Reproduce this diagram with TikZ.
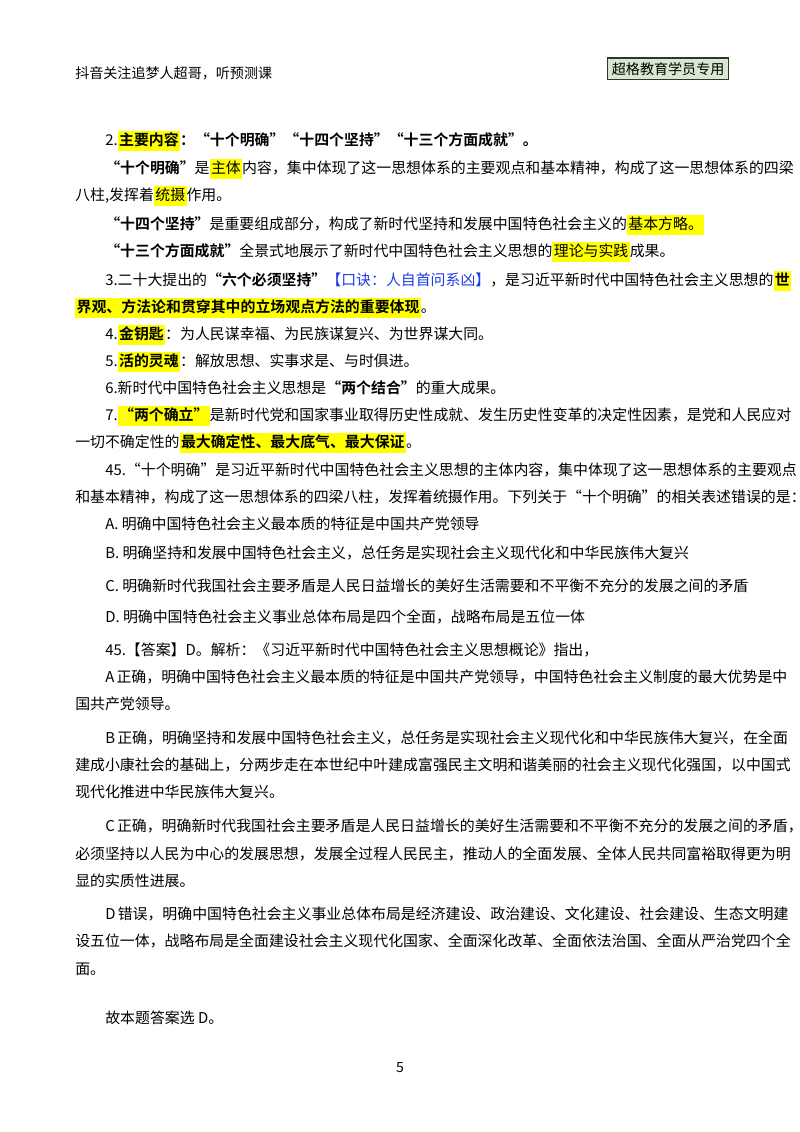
\documentclass[tikz,border=0pt]{standalone}
\usepackage{fontspec}
\setmainfont{Noto Sans CJK SC}[BoldFont={Noto Sans CJK SC Bold}]
\XeTeXlinebreaklocale "zh"
\XeTeXlinebreakskip=0pt plus 2pt minus 1pt
\definecolor{hly}{RGB}{255,255,0}
\definecolor{boxg}{RGB}{214,232,208}
\definecolor{kb}{RGB}{30,60,230}
\newcommand\hlt[1]{{\setlength{\fboxsep}{1pt}\colorbox{hly}{\strut #1}}}
\newcommand\fullind[1]{\hbox to 15.55cm{#1}}
\newcommand\fullnon[1]{\hbox to 16.3cm{#1}}
\begin{document}
\begin{tikzpicture}[x=0.025cm,y=-0.025cm,
  ln/.style={anchor=base west,inner sep=0pt,font=\fontsize{10.6pt}{12pt}\selectfont},
  sm/.style={anchor=base west,inner sep=0pt,font=\fontsize{10pt}{12pt}\selectfont}]
\useasboundingbox (0,0) rectangle (800,1132);
\node[sm] (h1) at (75,78) {抖音关注追梦人超哥，听预测课};
\node[sm,draw=black!80,line width=1pt,fill=boxg,inner sep=3pt] (h2) at (607,74) {超格教育学员专用};
\node[ln] (l1) at (105,145) {2.\hlt{\textbf{主要内容}}\textbf{：“十个明确”“十四个坚持”“十三个方面成就”。}};
\node[ln] (l2) at (105,173) {\fullind{\textbf{“十个明确”}是\hlt{主体}内容，集中体现了这一思想体系的主要观点和基本精神，构成了这一思想体系的四梁}};
\node[ln] (l3) at (75,200) {八柱,发挥着\hlt{统摄}作用。};
\node[ln] (l4) at (105,229) {\textbf{“十四个坚持”}是重要组成部分，构成了新时代坚持和发展中国特色社会主义的\hlt{基本方略。}};
\node[ln] (l5) at (105,256) {\textbf{“十三个方面成就”}全景式地展示了新时代中国特色社会主义思想的\hlt{理论与实践}成果。};
\node[ln] (l6) at (105,285) {\fullind{3.二十大提出的\textbf{“六个必须坚持”}{\color{kb}【口诀：人自首问系凶】}，是习近平新时代中国特色社会主义思想的\hlt{\textbf{世}}}};
\node[ln] (l7) at (75,312) {\hlt{\textbf{界观、方法论和贯穿其中的立场观点方法的重要体现}}。};
\node[ln] (l8) at (105,339) {4.\hlt{\textbf{金钥匙}}：为人民谋幸福、为民族谋复兴、为世界谋大同。};
\node[ln] (l9) at (105,366) {5.\hlt{\textbf{活的灵魂}}：解放思想、实事求是、与时俱进。};
\node[ln] (l10) at (105,393) {6.新时代中国特色社会主义思想是\textbf{“两个结合”}的重大成果。};
\node[ln] (l11) at (105,420) {\fullind{7.\hlt{\textbf{“两个确立”}}是新时代党和国家事业取得历史性成就、发生历史性变革的决定性因素，是党和人民应对}};
\node[ln] (l12) at (75,447) {一切不确定性的\hlt{\textbf{最大确定性、最大底气、最大保证}}。};
\node[ln] (q1) at (105,475) {\fullind{45.“十个明确”是习近平新时代中国特色社会主义思想的主体内容，集中体现了这一思想体系的主要观点}};
\node[ln] (q2) at (75,502) {\fullnon{和基本精神，构成了这一思想体系的四梁八柱，发挥着统摄作用。下列关于“十个明确”的相关表述错误的是：}};
\node[ln] (qa) at (105,529) {A. 明确中国特色社会主义最本质的特征是中国共产党领导};
\node[ln] (qb) at (105,558) {B. 明确坚持和发展中国特色社会主义，总任务是实现社会主义现代化和中华民族伟大复兴};
\node[ln] (qc) at (105,591) {C. 明确新时代我国社会主要矛盾是人民日益增长的美好生活需要和不平衡不充分的发展之间的矛盾};
\node[ln] (qd) at (105,622) {D. 明确中国特色社会主义事业总体布局是四个全面，战略布局是五位一体};
\node[ln] (a0) at (105,655) {45.【答案】D。解析：《习近平新时代中国特色社会主义思想概论》指出，};
\node[ln] (a1) at (105,682) {\fullind{A 正确，明确中国特色社会主义最本质的特征是中国共产党领导，中国特色社会主义制度的最大优势是中}};
\node[ln] (a2) at (75,709) {国共产党领导。};
\node[ln] (b1) at (105,743) {\fullind{B 正确，明确坚持和发展中国特色社会主义，总任务是实现社会主义现代化和中华民族伟大复兴，在全面}};
\node[ln] (b2) at (75,770) {\fullnon{建成小康社会的基础上，分两步走在本世纪中叶建成富强民主文明和谐美丽的社会主义现代化强国，以中国式}};
\node[ln] (b3) at (75,797) {现代化推进中华民族伟大复兴。};
\node[ln] (c1) at (105,831) {\fullind{C 正确，明确新时代我国社会主要矛盾是人民日益增长的美好生活需要和不平衡不充分的发展之间的矛盾，}};
\node[ln] (c2) at (75,859) {\fullnon{必须坚持以人民为中心的发展思想，发展全过程人民民主，推动人的全面发展、全体人民共同富裕取得更为明}};
\node[ln] (c3) at (75,886) {显的实质性进展。};
\node[ln] (d1) at (105,919) {\fullind{D 错误，明确中国特色社会主义事业总体布局是经济建设、政治建设、文化建设、社会建设、生态文明建}};
\node[ln] (d2) at (75,946) {\fullnon{设五位一体，战略布局是全面建设社会主义现代化国家、全面深化改革、全面依法治国、全面从严治党四个全}};
\node[ln] (d3) at (75,974) {面。};
\node[ln] (e1) at (105,1023) {故本题答案选 D。};
\node[sm,anchor=base] (pg) at (400,1072) {5};
\end{tikzpicture}
\end{document}
